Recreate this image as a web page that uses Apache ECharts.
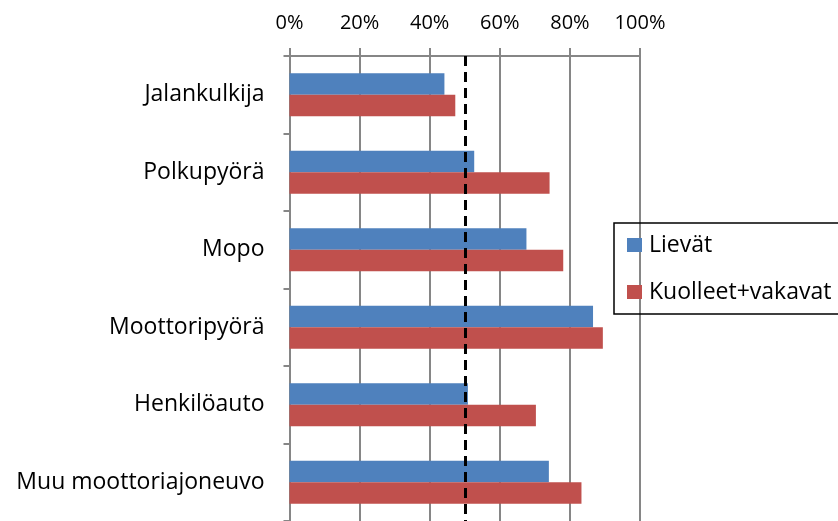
<!DOCTYPE html>
<html><head><meta charset="utf-8">
<script src="https://cdn.jsdelivr.net/npm/echarts@6/dist/echarts.min.js"></script>
<style>html,body{margin:0;padding:0;background:#fff}#c{width:838px;height:521px}</style>
</head><body><div id="c"></div>
<script>
const categories = ['Jalankulkija','Polkupyörä','Mopo','Moottoripyörä','Henkilöauto','Muu moottoriajoneuvo'];
const lievat = [44.2, 52.7, 67.6, 86.6, 50.9, 74.0];
const kuolleetVakavat = [47.3, 74.2, 78.1, 89.4, 70.3, 83.3];
const seriesNames = ['Lievät','Kuolleet+vakavat'];
const referenceLine = 50;

const FONT = 'Open Sans';
const chart = echarts.init(document.getElementById('c'));
chart.setOption({
  animation:false,
  textStyle:{fontFamily:FONT},
  grid:{left:289.5,right:198,top:56,height:466,containLabel:false},
  legend:{
    orient:'vertical', left:614, top:223,
    data:seriesNames,
    itemWidth:15, itemHeight:14, itemGap:23,
    padding:[10,20,10,13],
    borderColor:'#000', borderWidth:1.5,
    icon:'rect',
    textStyle:{fontFamily:FONT,fontSize:23,lineHeight:24,color:'#000',padding:[0,0,0,2]}
  },
  xAxis:{
    type:'value', position:'top', min:0, max:100, interval:20,
    axisLabel:{formatter:'{value}%',fontSize:20,color:'#000',fontFamily:FONT,margin:23},
    axisLine:{show:true,lineStyle:{color:'#868686',width:2}},
    axisTick:{show:true,length:8,lineStyle:{color:'#868686',width:2}},
    splitLine:{show:true,lineStyle:{color:'#868686',width:2}}
  },
  yAxis:{
    type:'category', data:categories, inverse:true,
    axisLabel:{fontSize:23,color:'#000',fontFamily:FONT,margin:25},
    axisLine:{show:true,lineStyle:{color:'#868686',width:2}},
    axisTick:{show:true,length:6,lineStyle:{color:'#868686',width:2}},
    splitLine:{show:false}
  },
  series:[
    {name:seriesNames[0],type:'bar',data:lievat,barWidth:21.5,barGap:'0%',
     itemStyle:{color:'#4F81BD'},
     markLine:{silent:true,symbol:'none',label:{show:false},
       lineStyle:{color:'#000',width:3,type:[10,6]},
       data:[{xAxis:referenceLine}]}},
    {name:seriesNames[1],type:'bar',data:kuolleetVakavat,barWidth:21.5,barGap:'0%',
     itemStyle:{color:'#C0504D'}}
  ]
});
</script></body></html>
